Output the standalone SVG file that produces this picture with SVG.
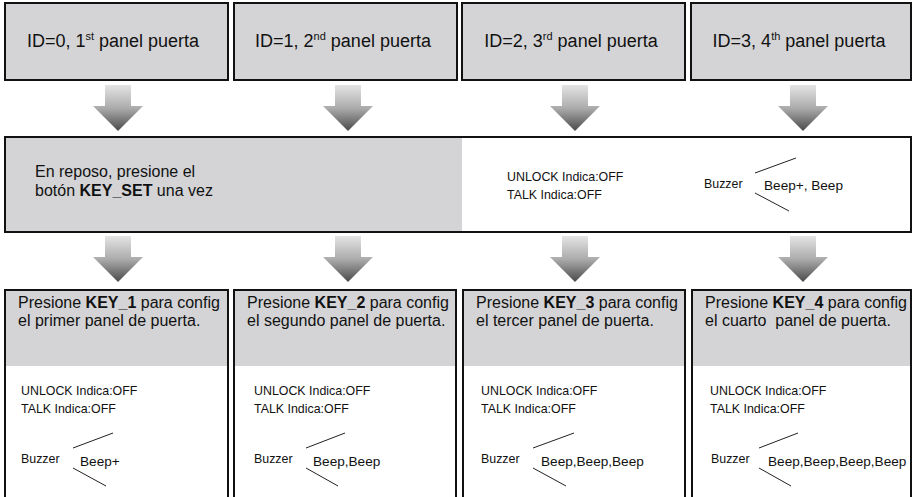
<svg xmlns="http://www.w3.org/2000/svg" xmlns:xlink="http://www.w3.org/1999/xlink" width="913" height="497" viewBox="0 0 913 497">
<style>
.box{stroke:#111;stroke-width:2;}
.gray{fill:#d4d4d6;}
.white{fill:#ffffff;}
.t{font-family:"Liberation Sans",Arial,sans-serif;fill:#111;}
.big{font-size:18px;}
.mid{font-size:16px;}
.sm{font-size:12.4px;}
.beep{font-size:13.6px;}
.b{font-weight:bold;}
.ln{stroke:#222;stroke-width:1;fill:none;}
</style>
<defs>
<linearGradient id="ag" x1="0" y1="0" x2="0" y2="1">
<stop offset="0" stop-color="#e4e4e4"/>
<stop offset="0.5" stop-color="#acacac"/>
<stop offset="1" stop-color="#4a4a4a"/>
</linearGradient>
<path id="arr" d="M-13,0 H13 V21 H25 L0,46 L-25,21 H-13 Z" fill="url(#ag)"/>
</defs>
<rect width="913" height="497" fill="#ffffff"/>

<g id="top1"><rect class="box gray" x="5" y="3" width="223" height="77"/><text class="t big" x="113" y="47" text-anchor="middle">ID=0, 1<tspan font-size="11" dy="-7">st</tspan><tspan dy="7"> panel puerta</tspan></text></g>
<g id="top2"><rect class="box gray" x="234" y="3" width="223" height="77"/><text class="t big" x="343" y="47" text-anchor="middle">ID=1, 2<tspan font-size="11" dy="-7">nd</tspan><tspan dy="7"> panel puerta</tspan></text></g>
<g id="top3"><rect class="box gray" x="462" y="3" width="223" height="77"/><text class="t big" x="571" y="47" text-anchor="middle">ID=2, 3<tspan font-size="11" dy="-7">rd</tspan><tspan dy="7"> panel puerta</tspan></text></g>
<g id="top4"><rect class="box gray" x="691" y="3" width="220" height="77"/><text class="t big" x="799" y="47" text-anchor="middle">ID=3, 4<tspan font-size="11" dy="-7">th</tspan><tspan dy="7"> panel puerta</tspan></text></g>

<g id="connectors">
<use xlink:href="#arr" x="118" y="85"/>
<use xlink:href="#arr" x="348" y="85"/>
<use xlink:href="#arr" x="575" y="85"/>
<use xlink:href="#arr" x="803" y="85"/>
<use xlink:href="#arr" x="118" y="236"/>
<use xlink:href="#arr" x="348" y="236"/>
<use xlink:href="#arr" x="575" y="236"/>
<use xlink:href="#arr" x="803" y="236"/>
</g>

<g id="middle">
<rect class="gray" x="5" y="137" width="457" height="95"/>
<rect class="white" x="462" y="137" width="449" height="95"/>
<rect class="box" fill="none" x="5" y="137" width="906" height="95"/>
<text class="t mid" x="35" y="177">En reposo, presione el</text>
<text class="t mid" x="35" y="196">botón <tspan class="b">KEY_SET</tspan> una vez</text>
<text class="t sm" x="507" y="181">UNLOCK Indica:OFF</text>
<text class="t sm" x="507" y="199">TALK Indica:OFF</text>
<text class="t sm" x="704" y="188">Buzzer</text>
<line class="ln" x1="755" y1="173" x2="796" y2="158"/>
<line class="ln" x1="755" y1="193" x2="789" y2="211"/>
<text class="t beep" x="764" y="190">Beep+, Beep</text>
</g>

<g id="bot1">
<rect class="gray" x="5" y="290" width="223" height="76"/>
<rect class="white" x="5" y="366" width="223" height="144"/>
<rect class="box" fill="none" x="5" y="290" width="223" height="220"/>
<text class="t mid" x="18" y="308">Presione <tspan class="b">KEY_1</tspan> para config</text>
<text class="t mid" x="18" y="326">el primer panel de puerta.</text>
<text class="t sm" x="21" y="395">UNLOCK Indica:OFF</text>
<text class="t sm" x="21" y="413">TALK Indica:OFF</text>
<text class="t sm" x="21" y="463">Buzzer</text>
<line class="ln" x1="73" y1="448" x2="113" y2="433"/>
<line class="ln" x1="73" y1="468" x2="106" y2="486"/>
<text class="t beep" x="80" y="466">Beep+</text>
</g>

<g id="bot2">
<rect class="gray" x="234" y="290" width="222" height="76"/>
<rect class="white" x="234" y="366" width="222" height="144"/>
<rect class="box" fill="none" x="234" y="290" width="222" height="220"/>
<text class="t mid" x="247" y="308">Presione <tspan class="b">KEY_2</tspan> para config</text>
<text class="t mid" x="247" y="326">el segundo panel de puerta.</text>
<text class="t sm" x="254" y="395">UNLOCK Indica:OFF</text>
<text class="t sm" x="254" y="413">TALK Indica:OFF</text>
<text class="t sm" x="254" y="463">Buzzer</text>
<line class="ln" x1="306" y1="448" x2="345" y2="433"/>
<line class="ln" x1="306" y1="468" x2="338" y2="486"/>
<text class="t beep" x="313" y="466">Beep,Beep</text>
</g>

<g id="bot3">
<rect class="gray" x="463" y="290" width="222" height="76"/>
<rect class="white" x="463" y="366" width="222" height="144"/>
<rect class="box" fill="none" x="463" y="290" width="222" height="220"/>
<text class="t mid" x="476" y="308">Presione <tspan class="b">KEY_3</tspan> para config</text>
<text class="t mid" x="476" y="326">el tercer panel de puerta.</text>
<text class="t sm" x="481" y="395">UNLOCK Indica:OFF</text>
<text class="t sm" x="481" y="413">TALK Indica:OFF</text>
<text class="t sm" x="481" y="463">Buzzer</text>
<line class="ln" x1="533" y1="448" x2="574" y2="433"/>
<line class="ln" x1="533" y1="468" x2="566" y2="486"/>
<text class="t beep" x="541" y="466">Beep,Beep,Beep</text>
</g>

<g id="bot4">
<rect class="gray" x="692" y="290" width="219" height="76"/>
<rect class="white" x="692" y="366" width="219" height="144"/>
<rect class="box" fill="none" x="692" y="290" width="219" height="220"/>
<text class="t mid" x="705" y="308">Presione <tspan class="b">KEY_4</tspan> para config</text>
<text class="t mid" x="705" y="326" style="white-space:pre">el cuarto  panel de puerta.</text>
<text class="t sm" x="710" y="395">UNLOCK Indica:OFF</text>
<text class="t sm" x="710" y="413">TALK Indica:OFF</text>
<text class="t sm" x="711" y="463">Buzzer</text>
<line class="ln" x1="759" y1="448" x2="798" y2="433"/>
<line class="ln" x1="759" y1="468" x2="791" y2="486"/>
<text class="t beep" x="768" y="466">Beep,Beep,Beep,Beep</text>
</g>
</svg>
